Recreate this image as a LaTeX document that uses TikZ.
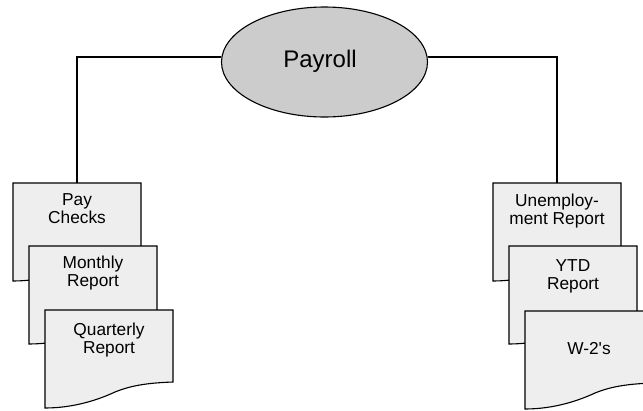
\documentclass[tikz,border=0pt]{standalone}
\usepackage{fontspec}
\setmainfont{Liberation Sans}[Ligatures=TeXOff]
\usetikzlibrary{shapes.geometric}
\definecolor{pagegray}{HTML}{EEEEEE}
\definecolor{ovalgray}{HTML}{CCCCCC}
\tikzset{
  wire/.style={line width=2pt, draw=black},
  oval/.style={ellipse, draw=black, fill=ovalgray, line width=1.1pt, inner sep=0pt,
    minimum width=206pt, minimum height=110pt},
  ovaltext/.style={inner sep=0pt, anchor=base, font=\fontsize{24}{28}\selectfont},
  pageoutline/.style={draw=black, line width=1.1pt, fill=pagegray, line join=miter},
  pagearea/.style={rectangle, inner sep=0pt, outer sep=0pt, minimum width=128pt,
    minimum height=72pt, anchor=north west},
  pagetext/.style={inner sep=0pt, align=center, anchor=north,
    font=\fontsize{17.3}{18}\selectfont},
}
% a report page with a torn lower edge: name, corner x, corner y, text drop, text
\newcommand\paperdoc[5]{%
  \node[pagearea] (#1) at (#2,#3) {};
  \begin{scope}[shift={(#1.north west)}]
    \draw[pageoutline] (0,0) -- (128,0) -- (128,72)
      .. controls (100,73) and (85,76) .. (70,82)
      .. controls (55,89) and (30,98) .. (0,98) -- cycle;
  \end{scope}
  \node[pagetext] (#1-text) at ([yshift=-#4pt]#1.north) {#5};
}
\begin{document}
\begin{tikzpicture}[x=1pt, y=-1pt]
  \clip (0,0) rectangle (643,410);
  \fill[white] (0,0) rectangle (643,410);

  % central process
  \node[oval] (payroll) at (324.5,62) {};
  \node[ovaltext] (payroll-text) at (320,67) {Payroll};

  % left stack of outputs
  \paperdoc{paychecks}{13}{183}{10}{Pay\\Checks}
  \paperdoc{monthly}{29}{246}{10}{Monthly\\Report}
  \paperdoc{quarterly}{45}{310}{13}{Quarterly\\Report}

  % right stack of outputs
  \paperdoc{unemp}{493}{183}{11}{Unemploy-\\ment Report}
  \paperdoc{ytd}{509}{246}{13}{YTD\\Report}
  \paperdoc{wtwo}{525}{311}{31}{W-2's}

  % connectors
  \draw[wire] (payroll.177) -| (paychecks.north);
  \draw[wire] (payroll.3) -| (unemp.north);
\end{tikzpicture}
\end{document}
